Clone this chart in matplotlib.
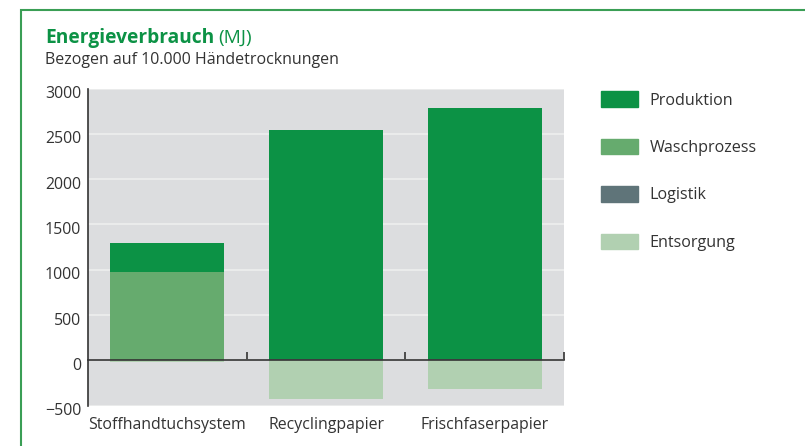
import matplotlib.pyplot as plt
from matplotlib.patches import Patch, Rectangle
from matplotlib.transforms import ScaledTranslation

plt.rcParams['font.family'] = ['Open Sans', 'DejaVu Sans']

# Daten (MJ, bezogen auf 10.000 Händetrocknungen)
kategorien = ["Stoffhandtuchsystem", "Recyclingpapier", "Frischfaserpapier"]
logistik = [3, 15, 18]
waschprozess = [975, 0, 0]
produktion = [320, 2525, 2765]
entsorgung = [-15, -422, -315]
y_ticks = [-500, 0, 500, 1000, 1500, 2000, 2500, 3000]

c_prod = "#0c9245"
c_wasch = "#66ab6e"
c_log = "#5f7479"
c_ents = "#b1d0b1"
grau = "#dcdddf"
text_c = "#333333"

fig = plt.figure(figsize=(8.05, 4.46), dpi=100)
ax = fig.add_axes([88 / 805, 1 - 405.8 / 446, 476 / 805, 317.3 / 446])
ax.set_facecolor(grau)

x = range(len(kategorien))
w = 0.72
ax.bar(x, logistik, w, color=c_log, zorder=3)
ax.bar(x, waschprozess, w, bottom=logistik, color=c_wasch, zorder=3)
unten = [a + b for a, b in zip(logistik, waschprozess)]
ax.bar(x, produktion, w, bottom=unten, color=c_prod, zorder=3)
ax.bar(x, entsorgung, w, color=c_ents, zorder=3)

ax.set_xlim(-0.5, 2.5)
ax.set_ylim(-500, 3000)
ax.set_yticks(y_ticks)
ax.set_yticklabels(["\u2212500"] + [str(v) for v in y_ticks[1:]])
ax.yaxis.grid(True, color="#eeeeee", linewidth=1.2, zorder=0)
ax.set_axisbelow(True)

for s in ["top", "right"]:
    ax.spines[s].set_visible(False)
ax.spines["bottom"].set_position(("data", 0))
ax.spines["bottom"].set_zorder(4)
for s in ["left", "bottom"]:
    ax.spines[s].set_color("#333333")
    ax.spines[s].set_linewidth(1.2)

ax.set_xticks(list(x))
ax.set_xticklabels(kategorien)
ax.set_xticks([0.5, 1.5, 2.5], minor=True)
ax.tick_params(axis="x", which="major", length=0, pad=40.5, labelsize=11.4, labelcolor=text_c)
ax.tick_params(axis="x", which="minor", direction="in", length=6, width=1.2, color="#333333")
ax.tick_params(axis="y", length=0, pad=5, labelsize=11.4, labelcolor=text_c)
for lab in ax.get_yticklabels():
    lab.set_transform(lab.get_transform() + ScaledTranslation(0, -2.5 / 72, fig.dpi_scale_trans))

# Legende
handles = [Patch(color=c_prod, label="Produktion"),
           Patch(color=c_wasch, label="Waschprozess"),
           Patch(color=c_log, label="Logistik"),
           Patch(color=c_ents, label="Entsorgung")]
fig.legend(handles=handles, loc="upper left", bbox_to_anchor=(601 / 805, 1 - 91.5 / 446),
           frameon=False, fontsize=11.6, handlelength=2.3, handleheight=1.1,
           labelspacing=1.87, handletextpad=0.7, borderpad=0, borderaxespad=0,
           labelcolor=text_c)

# Titel
t = fig.text(45 / 805, 1 - 43 / 446, "Energieverbrauch", fontsize=13.8, fontweight="bold",
             color=c_prod, va="baseline")
fig.canvas.draw()
bb = t.get_window_extent()
fig.text((bb.x1 + 4) / 805, 1 - 43 / 446, "(MJ)", fontsize=13.8, color=c_prod, va="baseline")
fig.text(45 / 805, 1 - 64 / 446, "Bezogen auf 10.000 Händetrocknungen", fontsize=11.5,
         color=text_c, va="baseline")

# Rahmen
fig.patches.append(Rectangle((21 / 805, -0.2), 1.2, 1.2 - 10 / 446, fill=False,
                             edgecolor="#3a9e55", linewidth=1.5, transform=fig.transFigure))

plt.savefig("out.png", dpi=100)
